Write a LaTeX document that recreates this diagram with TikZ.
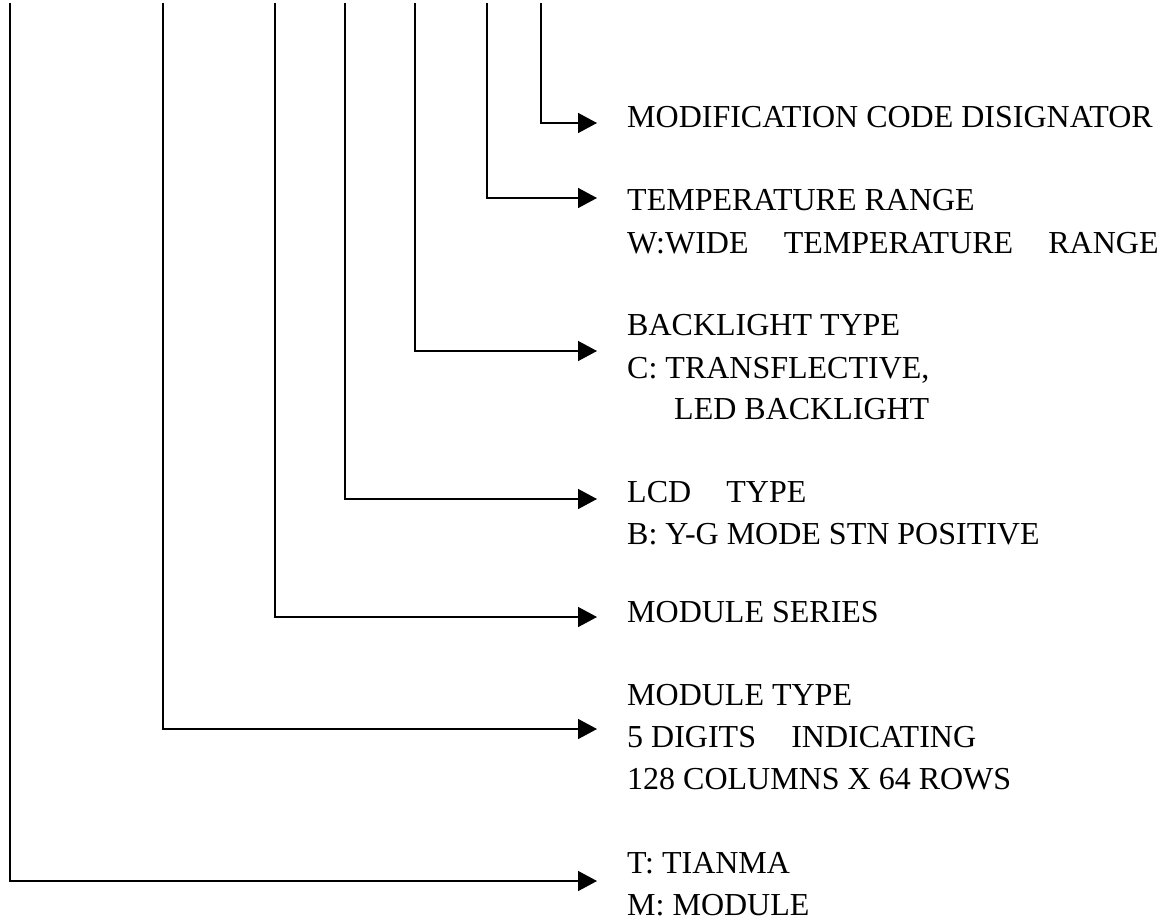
\documentclass[tikz,border=0pt]{standalone}
\usepackage{fontspec}
\setmainfont{Liberation Serif}
\usetikzlibrary{arrows.meta,positioning}

\begin{document}
\begin{tikzpicture}[
  x=1pt, y=-1pt,
  lbl/.style={anchor=west, inner sep=0pt, text height=21pt, text depth=0pt,
    font=\fontsize{32}{39}\selectfont},
  arrow/.style={-{Triangle[length=19pt,width=20pt]}, line width=1.5pt}
]
  \useasboundingbox (0,0) rectangle (1172,921);

  % tops of the code lines
  \coordinate (tm)   at (10,3);
  \coordinate (type) at (163,3);
  \coordinate (ser)  at (275,3);
  \coordinate (lcd)  at (345,3);
  \coordinate (bl)   at (415,3);
  \coordinate (temp) at (487,3);
  \coordinate (mod)  at (541,3);

  % arrow tips
  \coordinate (modend)  at (597,123);
  \coordinate (tempend) at (597,198);
  \coordinate (blend)   at (597,351);
  \coordinate (lcdend)  at (597,499);
  \coordinate (serend)  at (597,617);
  \coordinate (typeend) at (597,729);
  \coordinate (tmend)   at (597,881);

  % labels
  \node[lbl] (modtxt) at (627,117) {MODIFICATION CODE DISIGNATOR};
  \node[lbl] (temptxt) at (627,200) {TEMPERATURE RANGE};
  \node[lbl] (tempw) at (627,243) {W:WIDE\hspace{1.1em}TEMPERATURE\hspace{1.1em}RANGE};
  \node[lbl] (bltxt) at (627,325) {BACKLIGHT TYPE};
  \node[lbl] (blc) at (627,368) {C: TRANSFLECTIVE,};
  \node[lbl] (blled) at (674,409) {LED BACKLIGHT};
  \node[lbl] (lcdtxt) at (627,492) {LCD\hspace{1.1em}TYPE};
  \node[lbl] (lcdb) at (627,534) {B: Y-G MODE STN POSITIVE};
  \node[lbl] (sertxt) at (627,612) {MODULE SERIES};
  \node[lbl] (typetxt) at (627,695) {MODULE TYPE};
  \node[lbl] (typed) at (627,737) {5 DIGITS\hspace{1.1em}INDICATING};
  \node[lbl] (typec) at (627,779) {128 COLUMNS X 64 ROWS};
  \node[lbl] (tmt) at (627,863) {T: TIANMA};
  \node[lbl] (tmm) at (627,905) {M: MODULE};

  % connectors
  \draw[arrow] (mod) |- (modend);
  \draw[arrow] (temp) |- (tempend);
  \draw[arrow] (bl) |- (blend);
  \draw[arrow] (lcd) |- (lcdend);
  \draw[arrow] (ser) |- (serend);
  \draw[arrow] (type) |- (typeend);
  \draw[arrow] (tm) |- (tmend);
\end{tikzpicture}
\end{document}
